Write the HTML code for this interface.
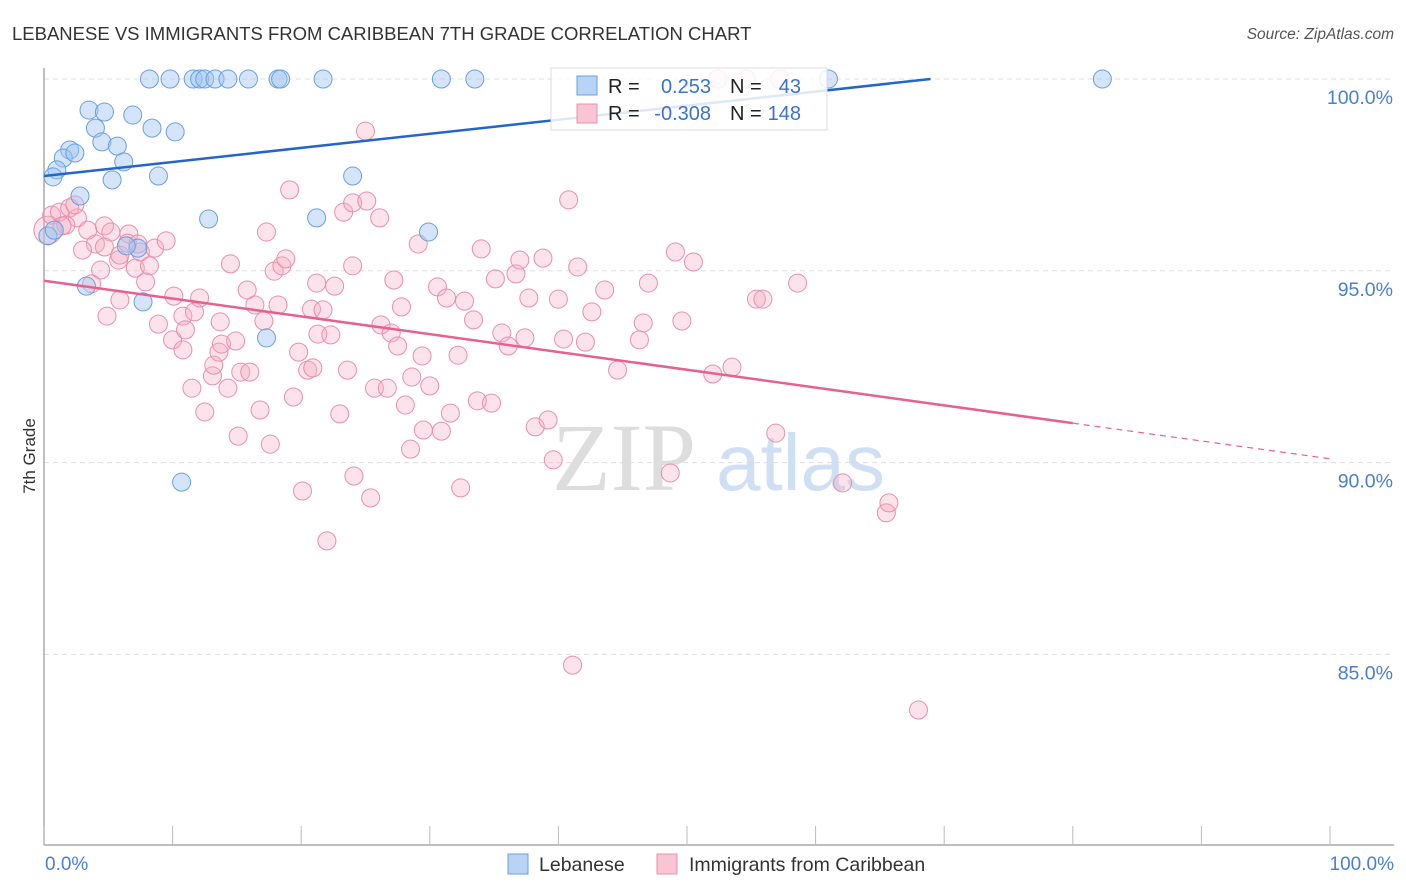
<!DOCTYPE html>
<html><head><meta charset="utf-8">
<style>
body{margin:0;background:#fff;font-family:"Liberation Sans",sans-serif;}
#wrap{position:relative;width:1406px;height:892px;overflow:hidden;}
</style></head>
<body>
<div id="wrap">
<svg id="svg" width="1406" height="892" xmlns="http://www.w3.org/2000/svg">
<text x="12" y="40" font-size="18.5" fill="#333">LEBANESE VS IMMIGRANTS FROM CARIBBEAN 7TH GRADE CORRELATION CHART</text>
<text x="1394" y="39" font-size="15.5" fill="#555" font-style="italic" text-anchor="end">Source: ZipAtlas.com</text>
<text x="35" y="456" font-size="17" fill="#333" transform="rotate(-90 35 456)" text-anchor="middle">7th Grade</text>
<g id="grid"></g>
<g>
<text x="552" y="490" font-size="96" font-family="Liberation Serif,serif" fill="#ddd">ZIP</text>
<text x="716" y="490" font-size="80" fill="#cfe0f5">atlas</text>
</g>
<g id="axes"></g>
<g id="pinkPts"></g>
<g id="bluePts"></g>
<g id="trends"></g>
<g>
<rect x="551" y="68" width="276" height="62" fill="#fff" fill-opacity="0.85" stroke="#ddd"/>
<rect x="577" y="76" width="20" height="19" fill="#b8d3f5" stroke="#6a9fe0"/>
<rect x="577" y="104" width="20" height="19" fill="#f9c4d4" stroke="#e890aa"/>
<g font-size="20">
<text x="608" y="93" fill="#222">R =</text>
<text x="711" y="93" fill="#3a72d0" text-anchor="end">0.253</text>
<text x="730" y="93" fill="#222">N =</text>
<text x="801" y="93" fill="#3a72d0" text-anchor="end">43</text>
</g>
<g font-size="20">
<text x="608" y="120" fill="#222">R =</text>
<text x="711" y="120" fill="#3a72d0" text-anchor="end">-0.308</text>
<text x="730" y="120" fill="#222">N =</text>
<text x="801" y="120" fill="#3a72d0" text-anchor="end">148</text>
</g>
</g>
<g>
<rect x="508" y="854" width="20" height="20" fill="#b8d3f5" stroke="#6a9fe0"/>
<text x="539" y="871" font-size="19.5" fill="#333">Lebanese</text>
<text x="689" y="871" font-size="19.5" fill="#333">Immigrants from Caribbean</text>
<rect x="657" y="854" width="20" height="20" fill="#f9c4d4" stroke="#e890aa"/>
</g>
</svg>
</div>
<script>
const blueX=[8.2,9.8,11.6,12.1,12.5,13.3,14.3,15.9,18.2,18.4,21.7,30.9,33.5,61.0,82.3,3.5,4.7,6.9,4.0,8.4,10.2,2.0,4.5,5.7,1.5,2.4,6.2,1.0,0.7,5.3,8.9,24.0,2.8,12.8,21.2,29.9,0.3,0.8,7.3,6.4,3.3,7.7,17.3,10.7];
const blueY=[100,100,100,100,100,100,100,100,100,100,100,100,100,100,100,99.19,99.14,99.06,98.72,98.72,98.62,98.15,98.36,98.25,97.94,98.07,97.84,97.63,97.45,97.37,97.47,97.47,96.95,96.35,96.38,96.01,95.91,96.06,95.59,95.65,94.6,94.19,93.25,89.49];
const pinkX=[0.3,0.6,1.2,2.0,2.6,1.7,3.4,2.4,4.0,3.0,4.4,4.7,5.2,5.8,5.9,6.6,6.5,7.1,7.5,7.9,8.2,8.6,9.5,4.9,8.9,10.0,10.1,10.8,11.0,11.5,11.7,12.1,12.5,13.1,13.2,13.6,13.8,14.3,14.9,15.1,15.3,15.8,16.0,14.5,16.4,17.1,17.3,17.6,18.2,17.9,18.5,18.8,19.1,19.4,19.8,20.5,20.1,20.8,21.2,21.3,21.7,22.3,22.6,22.0,23.0,23.3,23.6,24.0,24.1,24.0,25.0,25.1,26.1,25.4,25.7,26.2,26.7,27.0,27.2,27.5,27.8,28.1,28.5,28.6,29.1,29.4,29.5,30.0,30.6,30.9,31.3,31.6,32.2,32.4,32.7,33.4,33.7,34.0,34.8,35.1,35.6,36.1,36.7,37.0,37.4,37.7,38.2,38.8,39.2,39.6,40.0,40.4,40.8,41.1,41.5,42.1,42.6,43.6,44.6,46.3,46.6,47.0,48.7,49.1,49.6,50.5,52.0,53.5,55.4,55.9,56.9,58.6,62.1,65.5,65.7,68.0,52.4,54.6,57.2,3.7,1.4,4.7,7.3,5.9,10.8,13.7,16.8,20.9];
const pinkY=[96.06,96.45,96.53,96.64,96.38,96.19,96.06,96.72,95.70,95.54,95.02,96.17,96.01,95.28,95.41,95.96,95.72,95.07,95.49,94.71,95.13,95.59,95.78,93.82,93.61,93.20,94.34,93.82,93.46,91.94,93.93,94.29,91.32,92.26,92.54,92.88,93.09,91.94,93.17,90.69,92.36,94.50,92.36,95.18,94.11,93.69,96.01,90.48,94.11,94.99,95.13,95.31,97.11,91.71,92.88,92.41,89.26,94.00,94.68,93.35,93.98,93.33,94.60,87.96,91.27,96.53,92.41,95.13,89.65,96.77,98.64,96.82,96.38,89.08,91.94,93.59,91.94,93.38,94.76,93.04,94.06,91.50,90.35,92.23,95.70,92.78,90.85,92.00,94.58,90.82,94.29,91.29,92.80,89.34,94.21,93.72,91.61,95.57,91.55,94.79,93.38,93.04,94.92,95.28,93.25,94.29,90.93,95.33,91.11,90.07,94.26,93.22,96.85,84.72,95.10,93.14,93.93,94.50,92.41,93.20,93.64,94.68,89.73,95.49,93.69,95.23,92.31,92.49,94.26,94.26,90.77,94.68,89.47,88.69,88.95,83.55,100,100,100,94.66,96.17,95.62,95.70,94.24,92.94,93.67,91.37,92.47];
const blueTrend=[97.47,0.0367];   // intercept, slope (per % x)
const pinkTrend=[94.74,-0.0464];
const yTicks=[100,95,90,85];
const yTickLabels=["100.0%","95.0%","90.0%","85.0%"];
const xTicks=[0,10,20,30,40,50,60,70,80,90,100];

const NS="http://www.w3.org/2000/svg";
const X=v=>44+v*12.86;
const Y=v=>79+(100-v)*38.36;
function mk(tag,attrs,parent){const e=document.createElementNS(NS,tag);for(const k in attrs)e.setAttribute(k,attrs[k]);parent.appendChild(e);return e;}
const grid=document.getElementById('grid'),axes=document.getElementById('axes');
yTicks.forEach((t,i)=>{
  const l=mk('line',{x1:44,x2:1394,y1:Y(t),y2:Y(t),stroke:'#ddd','stroke-dasharray':'5,4'},grid);
  
  
  const tx=mk('text',{x:1393,y:Y(t)+25,'font-size':19.5,fill:'#4a7fd0','text-anchor':'end'},axes);
  tx.textContent=yTickLabels[i];
  
  
});
let a=mk('line',{x1:44,x2:44,y1:68,y2:845,stroke:'#aaa','stroke-width':1.5},axes);


a=mk('line',{x1:44,x2:1394,y1:845,y2:845,stroke:'#aaa','stroke-width':1.5},axes);


xTicks.forEach(t=>{
  const l=mk('line',{x1:X(t),x2:X(t),y1:826,y2:845,stroke:'#bbb'},axes);
  
  
});
let t1=mk('text',{x:45,y:870,'font-size':19,fill:'#4a7fd0'},axes);t1.textContent="0.0%";


t1=mk('text',{x:1394,y:870,'font-size':19,fill:'#4a7fd0','text-anchor':'end'},axes);t1.textContent="100.0%";



const pg=document.getElementById('pinkPts');
pinkX.forEach((x,i)=>{
  const c=mk('circle',{cx:X(x),cy:Y(pinkY[i]),r:i===0?14:9,fill:'rgba(246,172,196,0.35)',stroke:'#e98fab','stroke-width':1},pg);
  
  
});
const bg=document.getElementById('bluePts');
blueX.forEach((x,i)=>{
  const c=mk('circle',{cx:X(x),cy:Y(blueY[i]),r:9,fill:'rgba(160,198,242,0.45)',stroke:'#6a9fe0','stroke-width':1},bg);
  
  
});
const tg=document.getElementById('trends');
const bEnd=(100-blueTrend[0])/blueTrend[1];
let ln=mk('line',{x1:X(0),y1:Y(blueTrend[0]),x2:X(bEnd),y2:Y(100),stroke:'#2266cc','stroke-width':2.5},tg);


ln=mk('line',{x1:X(0),y1:Y(pinkTrend[0]),x2:X(80),y2:Y(pinkTrend[0]+pinkTrend[1]*80),stroke:'#e8608f','stroke-width':2.5},tg);


ln=mk('line',{x1:X(80),y1:Y(pinkTrend[0]+pinkTrend[1]*80),x2:X(100),y2:Y(pinkTrend[0]+pinkTrend[1]*100),stroke:'#e8608f','stroke-width':1.2,'stroke-dasharray':'6,5'},tg);


</script>
</body></html>
